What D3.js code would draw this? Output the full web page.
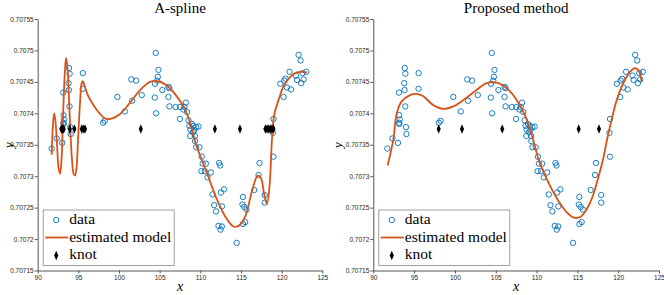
<!DOCTYPE html>
<html>
<head>
<meta charset="utf-8">
<script src="https://cdn.jsdelivr.net/npm/d3@7"></script>
<style>
  body { margin: 0; background: #fff; }
  .tick text { font-family: "Liberation Sans", Arial, sans-serif; font-size: 6.5px; fill: #262626; }
  .serif { font-family: "Liberation Serif", "DejaVu Serif", serif; fill: #000; }
</style>
</head>
<body>
<svg id="fig" width="664" height="295"></svg>
<script>
// observed data (same in both panels)
var dataX = [91.72,92.34,93.02,93.14,93.18,93.24,93.15,93.20,93.85,93.93,93.79,93.83,93.91,94.01,94.06,95.55,95.54,
  98.04,98.24,99.80,100.72,101.51,102.10,101.61,102.80,104.51,104.85,104.77,104.69,104.42,104.40,104.56,105.33,106.08,
  106.20,106.07,106.20,106.96,107.52,108.05,108.22,107.49,107.92,108.38,108.54,108.66,108.96,109.16,109.49,109.77,
  108.79,109.24,109.08,109.33,108.75,109.36,109.49,109.89,110.17,110.29,110.69,110.13,110.55,111.30,110.88,111.50,
  111.70,111.93,112.32,112.44,112.53,112.91,112.66,112.23,112.65,112.48,114.47,115.24,115.18,115.40,115.68,115.25,
  115.52,116.63,117.16,117.28,117.92,117.92,118.99,119.00,118.93,120.24,119.83,120.32,120.48,120.65,121.15,120.97,
  121.76,121.89,122.08,122.33,122.41,122.57,122.70,123.03];
var dataY = [0.707344,0.707360,0.707353,0.707433,0.707397,0.707390,0.707385,0.707383,0.707472,0.707463,0.707448,0.707437,
  0.707411,0.707378,0.707367,0.707464,0.707439,0.707385,0.707388,0.707426,0.707403,0.707454,0.707452,0.707420,0.707429,
  0.707496,0.707469,0.707458,0.707452,0.707447,0.707425,0.707400,0.707437,0.707442,0.707440,0.707426,0.707411,0.707410,
  0.707410,0.707410,0.707417,0.707391,0.707406,0.707402,0.707389,0.707380,0.707383,0.707380,0.707378,0.707379,0.707374,
  0.707373,0.707370,0.707364,0.707364,0.707356,0.707346,0.707346,0.707331,0.707320,0.707320,0.707308,0.707308,0.707306,
  0.707298,0.707271,0.707254,0.707244,0.707321,0.707317,0.707274,0.707279,0.707252,0.707221,0.707220,0.707215,0.707194,
  0.707267,0.707255,0.707251,0.707247,0.707224,0.707227,0.707278,0.707302,0.707321,0.707270,0.707258,0.707331,0.707391,
  0.707369,0.707426,0.707447,0.707452,0.707455,0.707441,0.707438,0.707466,0.707460,0.707453,0.707493,0.707484,0.707448,
  0.707464,0.707454,0.707466];

// knots
var knotY = 0.707375;
var knotsA = [92.9,93.05,93.2,93.94,94.51,95.42,95.61,95.82,102.68,111.79,114.87,118.0,118.2,118.4,118.6,118.8,119.0];
var knotsB = [98.01,100.87,105.80,115.16,117.65];

// estimated model, A-spline
var curveAX = [91.72,91.88,92.03,92.19,92.38,92.56,92.75,92.93,93.11,93.30,93.48,93.67,93.85,94.04,94.22,94.41,94.59,94.78,
  94.96,95.21,95.39,95.54,95.76,96.19,96.81,97.67,98.41,99.15,100.13,101.36,102.59,103.83,104.81,105.79,107.11,108.13,
  108.75,109.57,110.81,112.04,113.06,114.08,114.70,115.52,116.35,117.06,117.45,117.86,118.19,118.51,118.81,119.09,
  119.62,120.24,121.06,121.88,122.50,123.12];
var curveAY = [0.707334,0.707382,0.707400,0.707387,0.707350,0.707314,0.707304,0.707326,0.707393,0.707456,0.707488,0.707472,
  0.707421,0.707366,0.707326,0.707304,0.707301,0.707314,0.707358,0.707418,0.707447,0.707451,0.707444,0.707428,0.707414,
  0.707399,0.707391,0.707392,0.707399,0.707417,0.707437,0.707450,0.707451,0.707445,0.707427,0.707406,0.707384,0.707347,
  0.707305,0.707263,0.707236,0.707220,0.707221,0.707236,0.707276,0.707301,0.707297,0.707271,0.707256,0.707284,0.707358,
  0.707398,0.707421,0.707443,0.707458,0.707465,0.707466,0.707465];

// estimated model, proposed method
var curveBX = [91.76,92.45,92.87,93.48,94.50,95.32,96.13,97.35,98.58,99.80,101.03,102.25,103.89,105.12,106.34,107.57,108.79,
  109.81,110.26,111.49,112.71,113.73,114.59,115.32,115.97,116.79,117.61,118.22,118.63,119.00,119.82,120.63,121.45,
  122.06,122.46,122.88];
var curveBY = [0.707317,0.707358,0.707400,0.707419,0.707429,0.707431,0.707427,0.707413,0.707407,0.707411,0.707421,0.707433,
  0.707448,0.707449,0.707440,0.707421,0.707390,0.707347,0.707326,0.707289,0.707260,0.707242,0.707234,0.707235,0.707244,
  0.707265,0.707300,0.707331,0.707358,0.707379,0.707421,0.707448,0.707466,0.707472,0.707469,0.707450];

var xTicks = [90,95,100,105,110,115,120,125];
var yTicks = [0.70715,0.7072,0.70725,0.7073,0.70735,0.7074,0.70745,0.7075,0.70755];

var blue = "#0072BD", orange = "#D95319";
var svg = d3.select("#fig");

var panels = [
  {title: "A-spline", left: 37.7, right: 322.3, cx: curveAX, cy: curveAY, knots: knotsA, ylab: 25},
  {title: "Proposed method", left: 373.3, right: 659, cx: curveBX, cy: curveBY, knots: knotsB, ylab: 31}
];

panels.forEach(function(p) {
  var x = d3.scaleLinear().domain([90, 125]).range([p.left, p.right]);
  var y = d3.scaleLinear().domain([0.70715, 0.70755]).range([270.5, 19]);
  var g = svg.append("g");

  g.append("g")
      .attr("transform", "translate(0,270.5)")
      .call(d3.axisBottom(x).tickValues(xTicks).tickSizeInner(3).tickSizeOuter(0).tickPadding(2))
      .call(function(a) { a.select(".domain").attr("stroke", "#555"); a.selectAll("line").attr("stroke", "#555"); });

  g.append("g")
      .attr("transform", "translate(" + p.left + ",0)")
      .call(d3.axisLeft(y).tickValues(yTicks).tickSizeInner(3).tickSizeOuter(0).tickPadding(1)
        .tickFormat(function(d) { return String(+d.toFixed(5)); }))
      .call(function(a) { a.select(".domain").attr("stroke", "#555"); a.selectAll("line").attr("stroke", "#555"); });

  g.append("text").attr("class", "serif")
      .attr("x", (p.left + p.right) / 2).attr("y", 13)
      .attr("text-anchor", "middle").style("font-size", "15px")
      .text(p.title);

  g.append("text").attr("class", "serif")
      .attr("x", (p.left + p.right) / 2).attr("y", 291)
      .attr("text-anchor", "middle").style("font-size", "14px").style("font-style", "italic")
      .text("x");

  g.append("text").attr("class", "serif")
      .attr("transform", "translate(" + (p.left - p.ylab) + ",145) rotate(-90)")
      .attr("text-anchor", "middle").style("font-size", "13px").style("font-style", "italic")
      .text("y");

  g.append("g").selectAll("circle")
      .data(dataX)
    .enter().append("circle")
      .attr("cx", function(d) { return x(d); })
      .attr("cy", function(d, i) { return y(dataY[i]); })
      .attr("r", 2.7)
      .attr("fill", "none")
      .attr("stroke", blue)
      .attr("stroke-width", 0.9);

  var line = d3.line()
      .x(function(d) { return x(d); })
      .y(function(d, i) { return y(p.cy[i]); })
      .curve(d3.curveCatmullRom.alpha(0.5));

  g.append("path")
      .attr("d", line(p.cx))
      .attr("fill", "none")
      .attr("stroke", orange)
      .attr("stroke-width", 1.8);

  var diamond = d3.symbol().type(d3.symbolDiamond).size(26);
  g.append("g").selectAll("path")
      .data(p.knots)
    .enter().append("path")
      .attr("d", diamond)
      .attr("transform", function(d) { return "translate(" + x(d) + "," + y(knotY) + ") scale(0.75,1)"; })
      .attr("fill", "#000");

  // legend
  var lg = g.append("g").attr("transform", "translate(" + (p.left + 5.5) + ",210)");
  lg.append("rect").attr("width", 131).attr("height", 55.5)
      .attr("fill", "#fff").attr("stroke", "#888").attr("stroke-width", 0.8);
  lg.append("circle").attr("cx", 13).attr("cy", 10).attr("r", 2.7)
      .attr("fill", "none").attr("stroke", blue).attr("stroke-width", 0.9);
  lg.append("line").attr("x1", 2).attr("x2", 25).attr("y1", 27.5).attr("y2", 27.5)
      .attr("stroke", orange).attr("stroke-width", 1.8);
  lg.append("path").attr("d", diamond)
      .attr("transform", "translate(13,45.5) scale(0.75,1)").attr("fill", "#000");
  ["data", "estimated model", "knot"].forEach(function(t, i) {
    lg.append("text").attr("class", "serif")
        .attr("x", 26).attr("y", 14 + i * 17.7)
        .style("font-size", "15.5px")
        .text(t);
  });
});
</script>
</body>
</html>
